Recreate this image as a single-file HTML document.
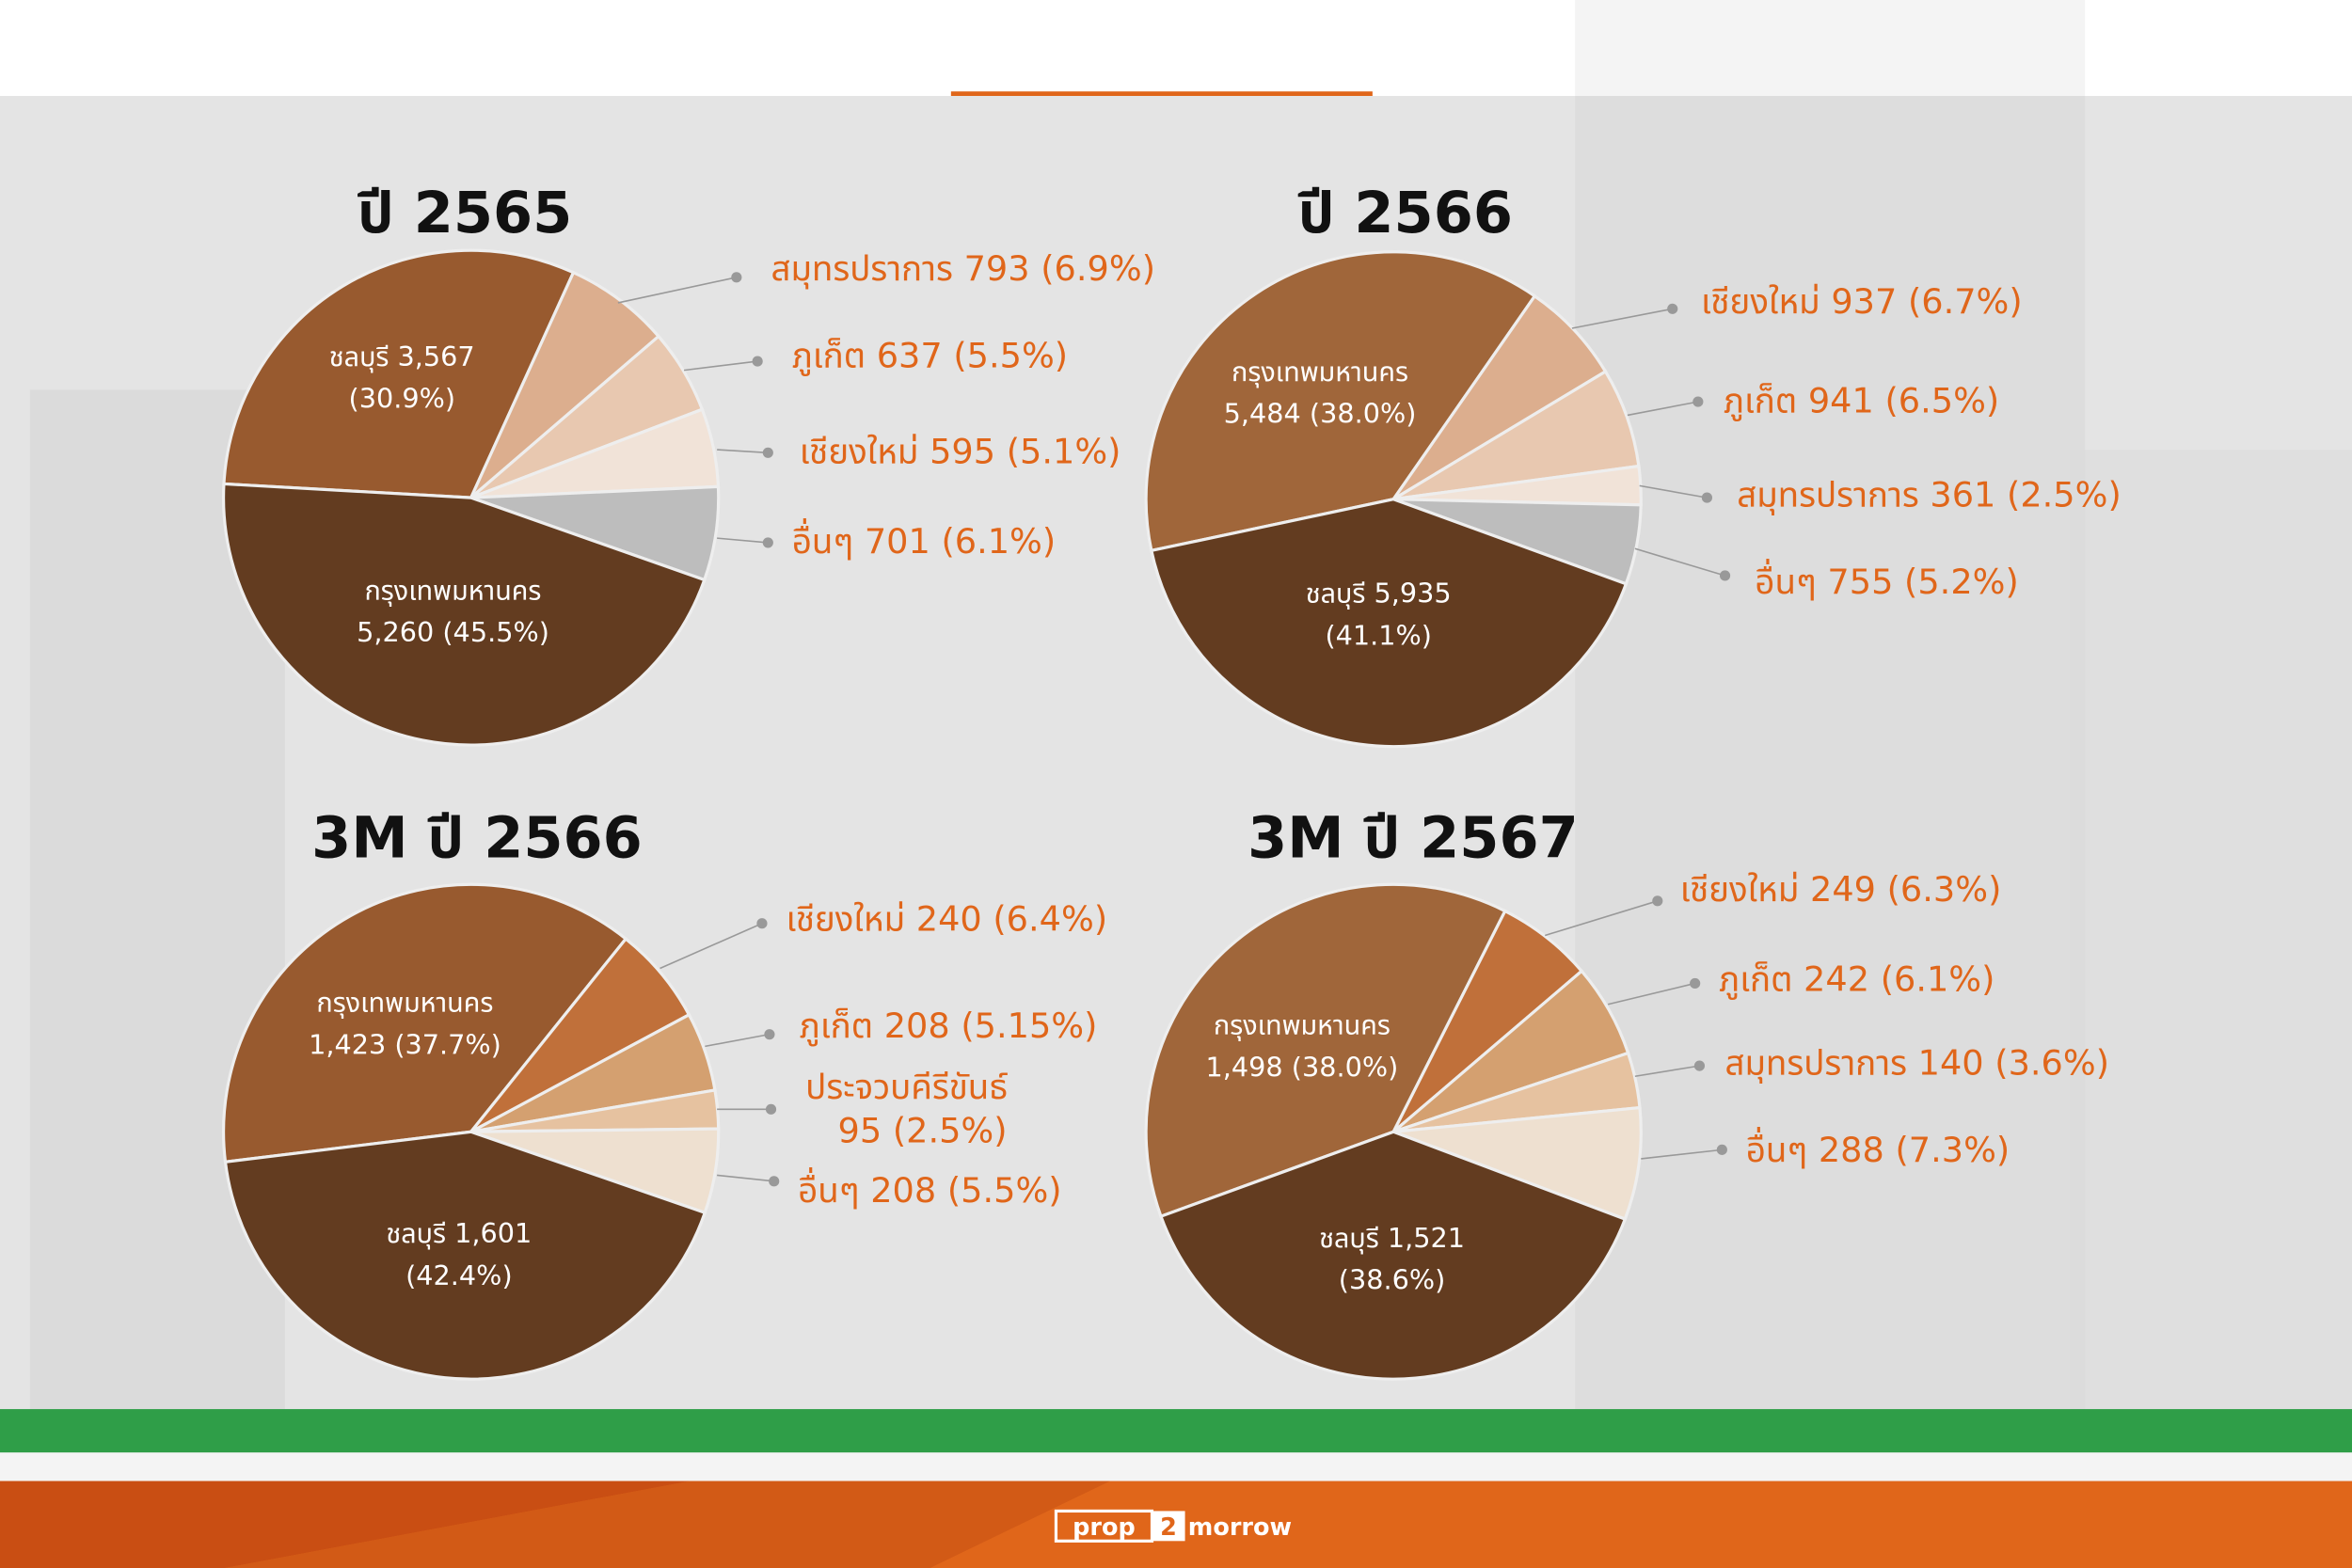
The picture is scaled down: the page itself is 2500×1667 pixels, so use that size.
<!DOCTYPE html>
<html><head><meta charset="utf-8"><style>
html,body{margin:0;padding:0;width:2500px;height:1667px;overflow:hidden;background:#e4e4e4}
svg{display:block}
text{font-family:"DejaVu Sans","Noto Sans Thai","Loma","Garuda",sans-serif}
</style></head><body>
<svg id="s" width="2500" height="1667" viewBox="0 0 1568 1046" preserveAspectRatio="none" xmlns="http://www.w3.org/2000/svg">
<rect x="0" y="0" width="1568" height="64" fill="#ffffff"/>
<rect x="1050" y="0" width="340" height="64" fill="#f4f4f4"/>
<rect x="0" y="64" width="1568" height="876" fill="#e4e4e4"/>
<rect x="1050" y="64" width="340" height="876" fill="#d9d9d9" opacity="0.6"/>
<rect x="20" y="260" width="170" height="680" fill="#d6d6d6" opacity="0.6"/>
<rect x="1380" y="300" width="188" height="640" fill="#dcdcdc" opacity="0.6"/>
<rect x="634" y="61" width="281" height="3" fill="#e0661a"/>
<rect x="0" y="940" width="1568" height="29" fill="#2f9e48"/>
<rect x="0" y="969" width="1568" height="19" fill="#f4f4f4"/>
<rect x="0" y="988" width="1568" height="58" fill="#e0661a"/>
<polygon points="0,988 460,988 150,1046 0,1046" fill="#c94e13"/>
<polygon points="460,988 740,988 620,1046 150,1046" fill="#d25a16"/>
<rect x="704" y="1008" width="64" height="20" fill="none" stroke="#fff" stroke-width="2"/>
<text x="736" y="1024" font-size="16" font-weight="bold" fill="#fff" text-anchor="middle">prop</text>
<rect x="768" y="1008" width="22" height="20" fill="#fff"/>
<text x="779" y="1024" font-size="16" font-weight="bold" fill="#e0661a" text-anchor="middle">2</text>
<text x="792" y="1024" font-size="16" font-weight="bold" fill="#fff">morrow</text>
<g id="g"></g>
</svg>
<script>
const g=document.getElementById('g');let h='';
function pie(cx,cy,r,start,sl){let a=start;for(const [p,c] of sl){const d=p*3.6;const a1=a*Math.PI/180,a2=(a+d)*Math.PI/180;
h+=`<path d="M${cx},${cy} L${cx+r*Math.cos(a1)},${cy+r*Math.sin(a1)} A${r},${r} 0 ${d>180?1:0} 1 ${cx+r*Math.cos(a2)},${cy+r*Math.sin(a2)} Z" fill="${c}" stroke="#eeeeee" stroke-width="2"/>`;a+=d;}}
function t(x,y,s,txt,fill,size,w,anc){h+=`<text x="${x}" y="${y}" font-size="${size}" fill="${fill}" font-weight="${w||'normal'}" text-anchor="${anc||'start'}">${txt}</text>`}
function lbl(x1,y1,x2,y2,tx,ty,txt){h+=`<line x1="${x1}" y1="${y1}" x2="${x2}" y2="${y2}" stroke="#999" stroke-width="1"/><circle cx="${x2}" cy="${y2}" r="3.5" fill="#999"/>`;t(tx,ty,0,txt,'#e0661a',23,'normal');}
pie(314,332,165,183.2,[[30.9,'#985a2f'],[6.9,'#dcae8e'],[5.5,'#e8c8b0'],[5.1,'#f1e3d8'],[6.1,'#bdbdbd'],[45.5,'#633c20']]);
pie(929,333,165,168,[[38,'#a0663a'],[6.7,'#dcae8e'],[6.5,'#e8c8b0'],[2.5,'#f1e3d8'],[5.2,'#bdbdbd'],[41.1,'#633c20']]);
pie(314,755,165,173,[[37.7,'#985a2f'],[6.4,'#c0703a'],[5.15,'#d4a070'],[2.5,'#e6c2a0'],[5.5,'#eee0d0'],[42.75,'#633c20']]);
pie(929,755,165,160,[[38,'#a0663a'],[6.3,'#c0703a'],[6.1,'#d4a070'],[3.6,'#e6c2a0'],[7.3,'#eee0d0'],[38.7,'#633c20']]);
t(310,155,0,'ปี 2565','#111',38,'bold','middle');
t(937,155,0,'ปี 2566','#111',38,'bold','middle');
t(318,572,0,'3M ปี 2566','#111',38,'bold','middle');
t(942,572,0,'3M ปี 2567','#111',38,'bold','middle');
function w(x,y,a,b){t(x,y,0,a,'#fff',18,'normal','middle');t(x,y+28,0,b,'#fff',18,'normal','middle');}
w(268,244,'ชลบุรี 3,567','(30.9%)');w(302,400,'กรุงเทพมหานคร','5,260 (45.5%)');
w(880,254,'กรุงเทพมหานคร','5,484 (38.0%)');w(919,402,'ชลบุรี 5,935','(41.1%)');
w(270,675,'กรุงเทพมหานคร','1,423 (37.7%)');w(306,829,'ชลบุรี 1,601','(42.4%)');
w(868,690,'กรุงเทพมหานคร','1,498 (38.0%)');w(928,832,'ชลบุรี 1,521','(38.6%)');
lbl(412,202,491,185,514,187,'สมุทรปราการ 793 (6.9%)');
lbl(456,247,505,241,528,245,'ภูเก็ต 637 (5.5%)');
lbl(478,300,512,302,533,309,'เชียงใหม่ 595 (5.1%)');
lbl(478,359,512,362,528,369,'อื่นๆ 701 (6.1%)');
lbl(1048,219,1115,206,1134,209,'เชียงใหม่ 937 (6.7%)');
lbl(1085,277,1132,268,1149,275,'ภูเก็ต 941 (6.5%)');
lbl(1093,324,1138,332,1158,338,'สมุทรปราการ 361 (2.5%)');
lbl(1090,366,1150,384,1170,396,'อื่นๆ 755 (5.2%)');
lbl(440,646,508,616,524,621,'เชียงใหม่ 240 (6.4%)');
lbl(470,698,513,690,533,692,'ภูเก็ต 208 (5.15%)');
lbl(478,740,514,740,537,733,'ประจวบคีรีขันธ์');
t(615,762,0,'95 (2.5%)','#e0661a',23,'normal','middle');
lbl(478,784,516,788,532,802,'อื่นๆ 208 (5.5%)');
lbl(1030,624,1105,601,1120,601,'เชียงใหม่ 249 (6.3%)');
lbl(1072,670,1130,656,1146,661,'ภูเก็ต 242 (6.1%)');
lbl(1090,718,1133,711,1150,717,'สมุทรปราการ 140 (3.6%)');
lbl(1094,773,1148,767,1164,775,'อื่นๆ 288 (7.3%)');
g.innerHTML=h;
</script>
</body></html>
